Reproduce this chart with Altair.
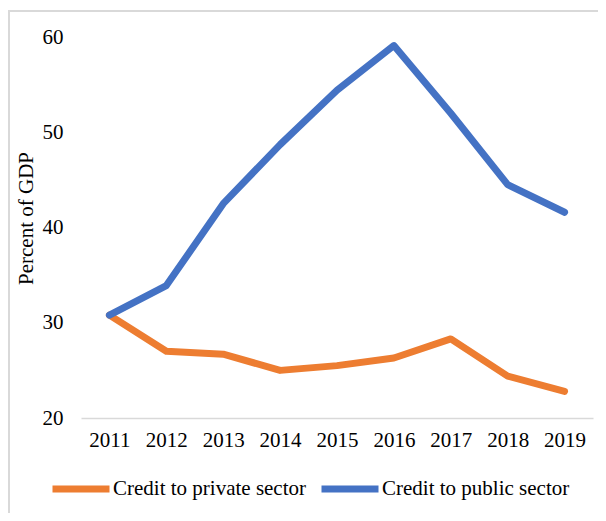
import altair as alt
import pandas as pd

years = ["2011", "2012", "2013", "2014", "2015", "2016", "2017", "2018", "2019"]
private = [30.8, 27.0, 26.7, 25.0, 25.5, 26.3, 28.3, 24.4, 22.8]
public = [30.8, 33.9, 42.5, 48.7, 54.4, 59.1, 52.0, 44.5, 41.6]
series_names = ["Credit to private sector", "Credit to public sector"]
colors = ["#ED7D31", "#4472C4"]

rows = []
for y, a, b in zip(years, private, public):
    rows.append({"year": y, "series": series_names[0], "value": a})
    rows.append({"year": y, "series": series_names[1], "value": b})
df = pd.DataFrame(rows)

FONT = "Liberation Serif"
FS = 21
W, H = 512, 381

one = pd.DataFrame({"a": [0]})
left_edge = alt.Chart(one).mark_rule(stroke="#d9d9d9", strokeWidth=2).encode(
    x=alt.value(-72), y=alt.value(-27), y2=alt.value(520)
)
top_edge = alt.Chart(one).mark_rule(stroke="#d9d9d9", strokeWidth=2).encode(
    x=alt.value(-73), x2=alt.value(560), y=alt.value(-26)
)

lines = alt.Chart(df).mark_line(strokeWidth=7, strokeCap="round", strokeJoin="round").encode(
    x=alt.X("year:O", sort=years, scale=alt.Scale(type="point", padding=0.5),
            axis=alt.Axis(title=None, labelAngle=0, ticks=False, domainColor="#d9d9d9",
                          domainWidth=1.5, labelPadding=11, labelFontSize=FS,
                          labelFont=FONT, labelColor="#000")),
    y=alt.Y("value:Q", scale=alt.Scale(domain=[20, 60], nice=False, zero=False),
            axis=alt.Axis(title="Percent of GDP", values=[20, 30, 40, 50, 60], grid=False,
                          domain=False, ticks=False, labelPadding=18, labelFontSize=FS,
                          labelFont=FONT, labelColor="#000", titleFont=FONT,
                          titleFontSize=FS, titleFontWeight="normal", titleColor="#000",
                          titlePadding=6, titleY=181)),
    color=alt.Color("series:N", sort=series_names,
                    scale=alt.Scale(domain=series_names, range=colors),
                    legend=alt.Legend(title=None, orient="none", direction="horizontal",
                                      legendX=-32, legendY=420, symbolType="stroke",
                                      symbolSize=3249, symbolStrokeWidth=7,
                                      labelFont=FONT, labelFontSize=FS, labelColor="#000",
                                      labelOffset=0, columnPadding=0, labelLimit=400)),
)

chart = alt.layer(left_edge, top_edge, lines).properties(
    width=W, height=H, autosize="none", background="white",
    padding={"left": 73, "top": 29, "right": 5, "bottom": 95}
).configure_view(strokeWidth=0, stroke="transparent")

chart.save("out.html", embed_options={"renderer": "svg", "actions": False})
